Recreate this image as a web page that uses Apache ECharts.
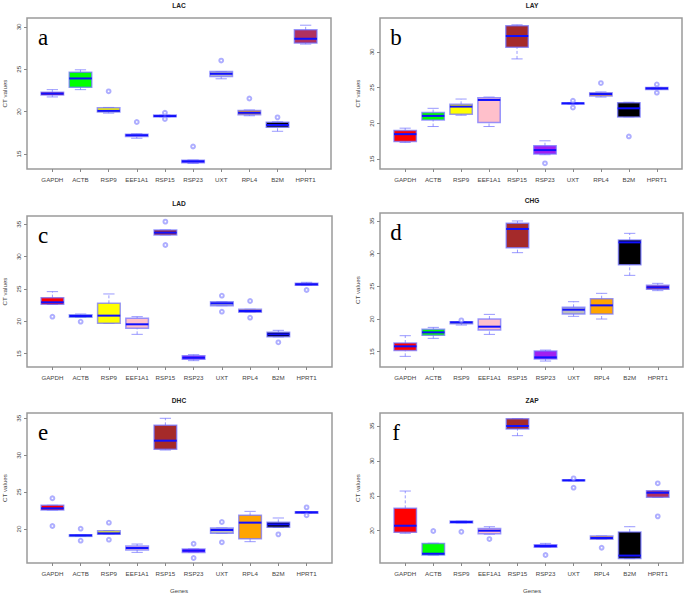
<!DOCTYPE html>
<html>
<head>
<meta charset="utf-8">
<script src="https://cdn.jsdelivr.net/npm/echarts@6/dist/echarts.min.js"></script>
<style>
html,body{margin:0;padding:0;background:#fff;}
#chart{width:685px;height:594px;}
</style>
</head>
<body>
<div id="chart"></div>
<script>
// ---- Data ----
const genes = ['GAPDH','ACTB','RSP9','EEF1A1','RSP15','RSP23','UXT','RPL4','B2M','HPRT1'];

// [lower whisker, Q1, median, Q3, upper whisker]
const lacStats = [
  [21.74,21.98,22.13,22.29,22.60],
  [22.60,22.87,23.92,24.66,24.94],
  [19.83,19.95,20.10,20.46,20.50],
  [16.87,17.07,17.22,17.34,17.40],
  [19.40,19.40,19.48,19.60,19.60],
  [13.90,13.99,14.14,14.26,14.30],
  [23.88,24.16,24.47,24.74,24.74],
  [19.52,19.64,19.87,20.14,20.20],
  [17.69,18.16,18.43,18.74,18.80],
  [27.97,28.09,28.60,29.65,30.20]
];
const lacOutliers = [[3,22.40],[4,18.78],[5,19.87],[5,19.13],[6,15.90],[7,26.03],[8,21.55],[9,19.33]];

const layStats = [
  [17.32,17.46,18.48,18.99,19.32],
  [19.55,20.48,21.04,21.50,22.10],
  [21.13,21.27,22.34,22.66,23.40],
  [19.55,20.11,23.27,23.59,23.68],
  [29.02,30.65,32.23,33.67,33.80],
  [15.60,15.69,16.25,16.86,17.55],
  [22.70,22.70,22.80,22.85,22.85],
  [23.68,23.82,24.10,24.29,24.40],
  [20.90,20.90,22.10,22.89,22.95],
  [24.75,24.75,24.89,25.03,25.03]
];
const layOutliers = [[6,14.39],[7,23.17],[7,22.20],[8,25.63],[9,18.16],[10,25.45],[10,24.29]];

const ladStats = [
  [22.60,22.63,22.94,23.66,24.59],
  [20.60,20.62,20.82,21.00,21.13],
  [19.69,19.69,20.88,22.78,24.23],
  [17.99,18.92,19.54,20.46,20.72],
  [33.35,33.35,33.71,34.12,34.12],
  [13.92,14.12,14.38,14.69,14.85],
  [22.42,22.42,22.78,23.04,23.04],
  [21.40,21.40,21.60,21.86,21.86],
  [17.60,17.63,17.99,18.30,18.61],
  [25.57,25.57,25.72,25.88,26.03]
];
const ladOutliers = [[1,20.72],[2,19.95],[5,35.41],[5,31.80],[7,23.97],[7,21.49],[8,23.14],[8,20.57],[9,16.75],[10,24.85]];

const chgStats = [
  [14.29,15.20,15.82,16.33,17.45],
  [17.04,17.50,17.96,18.42,18.72],
  [19.08,19.29,19.49,19.59,19.59],
  [17.65,18.32,18.83,20.00,20.71],
  [30.15,30.92,33.78,34.64,35.00],
  [13.57,13.88,14.13,15.10,15.25],
  [20.41,20.77,21.43,21.79,22.65],
  [20.00,20.77,22.09,23.11,23.93],
  [26.68,28.32,31.73,32.09,33.11],
  [24.34,24.54,24.85,25.15,25.46]
];
const chgOutliers = [[3,19.80]];

const dhcStats = [
  [22.57,22.57,22.80,23.21,23.21],
  [19.00,19.00,19.14,19.20,19.20],
  [19.28,19.28,19.41,19.77,19.77],
  [16.83,17.15,17.42,17.69,17.96],
  [30.70,30.80,31.97,34.05,35.00],
  [16.83,16.83,17.06,17.29,17.29],
  [19.41,19.41,19.86,20.13,20.13],
  [18.28,18.69,20.86,21.85,22.39],
  [20.20,20.22,20.63,20.90,21.49],
  [22.12,22.12,22.26,22.35,22.35]
];
const dhcOutliers = [[1,24.16],[1,20.40],[2,20.04],[2,18.42],[3,20.86],[3,18.55],[6,18.00],[6,16.07],[7,20.95],[7,18.19],[9,19.27],[10,22.93],[10,21.85]];

const zapStats = [
  [19.62,19.76,20.71,23.20,25.68],
  [16.50,16.51,16.70,18.18,18.20],
  [21.10,21.10,21.24,21.38,21.38],
  [19.50,19.57,20.00,20.33,20.57],
  [33.61,34.57,35.00,36.05,36.05],
  [17.60,17.61,17.80,17.99,18.18],
  [27.15,27.15,27.21,27.28,27.28],
  [18.76,18.76,18.95,19.23,19.23],
  [16.00,16.03,16.43,19.81,20.57],
  [24.78,24.78,25.44,25.73,25.73]
];
const zapOutliers = [[2,19.95],[3,19.85],[4,18.80],[6,16.51],[7,27.50],[7,26.16],[8,17.56],[10,26.78],[10,22.05]];

const titles = ['LAC','LAY','LAD','CHG','DHC','ZAP'];
const letters = ['a','b','c','d','e','f'];
const yTicks = [[15,20,25,30],[15,20,25,30],[15,20,25,30,35],[15,20,25,30,35],[20,25,30,35],[20,25,30,35]];
const allStats = [lacStats, layStats, ladStats, chgStats, dhcStats, zapStats];
const allOutliers = [lacOutliers, layOutliers, ladOutliers, chgOutliers, dhcOutliers, zapOutliers];

// ---- Styles / layout ----
const geneColors = ['#ff0000','#00ff00','#ffff00','#ffc0cb','#a52a2a','#a020f0','#bebebe','#ffa500','#000000','#b03060'];
const panels = [
  {left:27, top:18, width:304, height:151, ymin:13.24, ymax:31.05},
  {left:380,top:18, width:302, height:151, ymin:13.6,  ymax:34.75},
  {left:27, top:216,width:305, height:151, ymin:12.94, ymax:36.28},
  {left:380,top:213,width:303, height:154, ymin:12.66, ymax:36.22},
  {left:27, top:413,width:305, height:150, ymin:15.39, ymax:35.72},
  {left:380,top:413,width:303, height:150, ymin:15.37, ymax:36.86}
];
const borderBlue = 'rgba(110,110,255,0.7)';
const medianBlue = '#1010ff';
const labelFont = 'Liberation Sans, Arial, sans-serif';

function renderBox(params, api) {
  const x = api.value(0);
  const color = geneColors[api.value(6)];
  const c = (v) => api.coord([x, v]);
  const boxW = api.size([0.8, 0])[0];
  const cx = c(api.value(3))[0];
  const yMin = c(api.value(1))[1];
  const yQ1 = c(api.value(2))[1];
  const yMed = c(api.value(3))[1];
  const yQ3 = c(api.value(4))[1];
  const yMax = c(api.value(5))[1];
  const capW = boxW / 4;
  const children = [
    {type:'line', shape:{x1:cx,y1:yMin,x2:cx,y2:yQ1}, style:{stroke:borderBlue,lineWidth:1,lineDash:[3,2]}},
    {type:'line', shape:{x1:cx,y1:yQ3,x2:cx,y2:yMax}, style:{stroke:borderBlue,lineWidth:1,lineDash:[3,2]}},
    {type:'line', shape:{x1:cx-capW,y1:yMin,x2:cx+capW,y2:yMin}, style:{stroke:borderBlue,lineWidth:1}},
    {type:'line', shape:{x1:cx-capW,y1:yMax,x2:cx+capW,y2:yMax}, style:{stroke:borderBlue,lineWidth:1}},
    {type:'rect', shape:{x:cx-boxW/2,y:yQ3,width:boxW,height:Math.max(yQ1-yQ3,0.5)}, style:{fill:color,stroke:borderBlue,lineWidth:1.5}},
    {type:'line', shape:{x1:cx-boxW/2,y1:yMed,x2:cx+boxW/2,y2:yMed}, style:{stroke:medianBlue,lineWidth:2}}
  ];
  return {type:'group', children};
}

const grids = [], xAxes = [], yAxes = [], series = [], graphics = [];
panels.forEach((p, i) => {
  grids.push({left:p.left, top:p.top, width:p.width, height:p.height, show:true,
    borderColor:'#9a9a9a', borderWidth:1.5, backgroundColor:'#fff'});
  xAxes.push({type:'value', gridIndex:i, min:0.1, max:10.9,
    axisLine:{show:false}, splitLine:{show:false},
    axisTick:{show:true, length:3, lineStyle:{color:'#888'}, customValues:[1,2,3,4,5,6,7,8,9,10]},
    axisLabel:{show:true, margin:7, fontSize:6.2, fontFamily:labelFont, color:'#444',
      customValues:[1,2,3,4,5,6,7,8,9,10], formatter:(v)=>genes[Math.round(v)-1] || ''}
  });
  yAxes.push({type:'value', gridIndex:i, min:p.ymin, max:p.ymax,
    axisLine:{show:false}, splitLine:{show:false},
    axisTick:{show:true, length:3, lineStyle:{color:'#888'}, customValues:yTicks[i]},
    axisLabel:{show:true, margin:6, rotate:90, fontSize:6.2, fontFamily:labelFont, color:'#444',
      customValues:yTicks[i], formatter:(v)=>String(Math.round(v))}
  });
  series.push({type:'custom', xAxisIndex:i, yAxisIndex:i, renderItem:renderBox,
    clip:false, silent:true,
    data: allStats[i].map((s, k) => [k+1, s[0], s[1], s[2], s[3], s[4], k])
  });
  series.push({type:'scatter', xAxisIndex:i, yAxisIndex:i, symbol:'emptyCircle', symbolSize:3.8,
    silent:true, itemStyle:{color:'rgba(120,120,255,0.75)', borderWidth:0.9},
    data: allOutliers[i].map(o => [o[0], o[1]])
  });
  graphics.push({type:'text', x:(i%2===0)?179:532, y:p.top-13, style:{text:titles[i], font:'bold 6.6px '+labelFont, fill:'#222', textAlign:'center', textVerticalAlign:'middle'}});
  graphics.push({type:'text', x:p.left+16, y:p.top+19, style:{text:letters[i], font:'23px "Liberation Serif", "Times New Roman", serif', fill:'#000', textAlign:'center', textVerticalAlign:'middle'}});
  graphics.push({type:'text', x:p.left-23, y:p.top+p.height/2, rotation:Math.PI/2, style:{text:'CT values', font:'6.2px '+labelFont, fill:'#444', textAlign:'center', textVerticalAlign:'middle'}});
  if (i >= 4) {
    graphics.push({type:'text', x:(i%2===0)?179:532, y:590, style:{text:'Genes', font:'6.2px '+labelFont, fill:'#444', textAlign:'center', textVerticalAlign:'middle'}});
  }
});

const chart = echarts.init(document.getElementById('chart'), null, {renderer:'svg'});
chart.setOption({
  backgroundColor:'#fff',
  animation:false,
  grid:grids, xAxis:xAxes, yAxis:yAxes, series:series,
  graphic:graphics
});
</script>
</body>
</html>
